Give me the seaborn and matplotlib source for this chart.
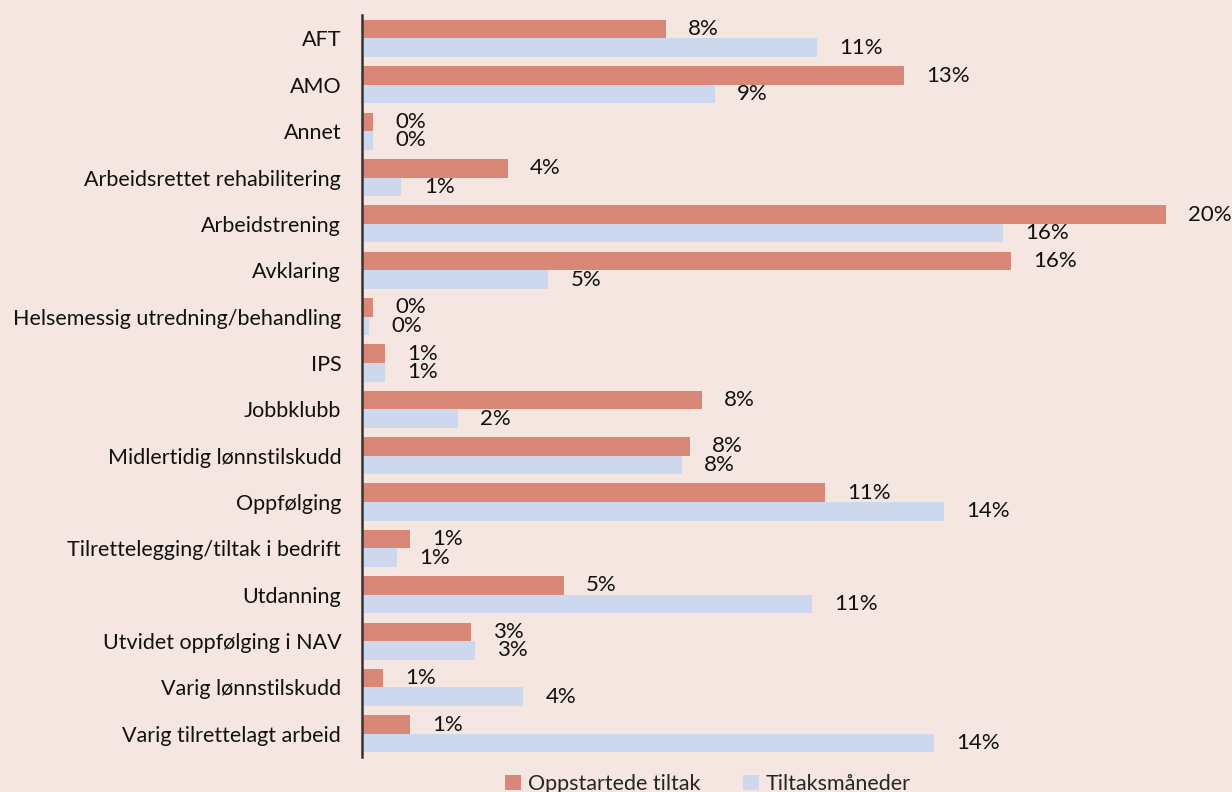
import matplotlib
matplotlib.use("Agg")
import matplotlib.pyplot as plt
import seaborn as sns
import pandas as pd
from matplotlib.patches import Patch

categories = [
    "AFT", "AMO", "Annet", "Arbeidsrettet rehabilitering", "Arbeidstrening",
    "Avklaring", "Helsemessig utredning/behandling", "IPS", "Jobbklubb",
    "Midlertidig lønnstilskudd", "Oppfølging", "Tilrettelegging/tiltak i bedrift",
    "Utdanning", "Utvidet oppfølging i NAV", "Varig lønnstilskudd",
    "Varig tilrettelagt arbeid",
]
oppstartede = [7.54, 13.45, 0.27, 3.62, 19.95, 16.1, 0.27, 0.57, 8.44, 8.14,
               11.48, 1.19, 5.01, 2.70, 0.52, 1.18]
tiltaksmaneder = [11.28, 8.76, 0.27, 0.98, 15.9, 4.62, 0.17, 0.57, 2.38, 7.94,
                  14.45, 0.87, 11.17, 2.80, 4.0, 14.2]
series_names = ["Oppstartede tiltak", "Tiltaksmåneder"]

BG = "#F5E6E2"
RED = "#D98878"
BLUE = "#CDD8EF"
FS = 15.5

df = pd.DataFrame({
    "kategori": categories * 2,
    "verdi": oppstartede + tiltaksmaneder,
    "serie": [series_names[0]] * len(categories) + [series_names[1]] * len(categories),
})

sns.set_theme(style="white")
plt.rcParams["font.family"] = ["Lato", "DejaVu Sans"]

fig = plt.figure(figsize=(12.32, 7.92), dpi=100, facecolor=BG)
ax = fig.add_axes([362 / 1232, 1 - 757 / 792, (1220 - 362) / 1232, (757 - 15.3) / 792])
ax.set_facecolor(BG)

sns.barplot(data=df, y="kategori", x="verdi", hue="serie", orient="h",
            palette=[RED, BLUE], width=0.8, saturation=1, ax=ax, legend=False,
            linewidth=0, edgecolor="none")

ax.set_xlim(0, (1220 - 362) / 40.3)
ax.set_xlabel("")
ax.set_ylabel("")
ax.set_xticks([])
ax.tick_params(axis="y", length=0, pad=15, labelsize=FS, labelcolor="#111111")
for s in ["top", "right", "bottom"]:
    ax.spines[s].set_visible(False)
ax.spines["left"].set_color("#333333")
ax.spines["left"].set_linewidth(1.8)

for cont, vals in zip(ax.containers, [oppstartede, tiltaksmaneder]):
    ax.bar_label(cont, labels=[f"{v:.0f}%" for v in vals], padding=16,
                 fontsize=FS + 0.5, color="#111111")

handles = [Patch(facecolor=RED, edgecolor="none"), Patch(facecolor=BLUE, edgecolor="none")]
fig.legend(handles, series_names, loc="center", bbox_to_anchor=(708 / 1232, 1 - 784 / 792),
           ncol=2, frameon=False, fontsize=FS, handlelength=0.75, handleheight=0.75,
           handletextpad=0.3, columnspacing=2.0)

fig.savefig("out.png", dpi=100, facecolor=BG)
